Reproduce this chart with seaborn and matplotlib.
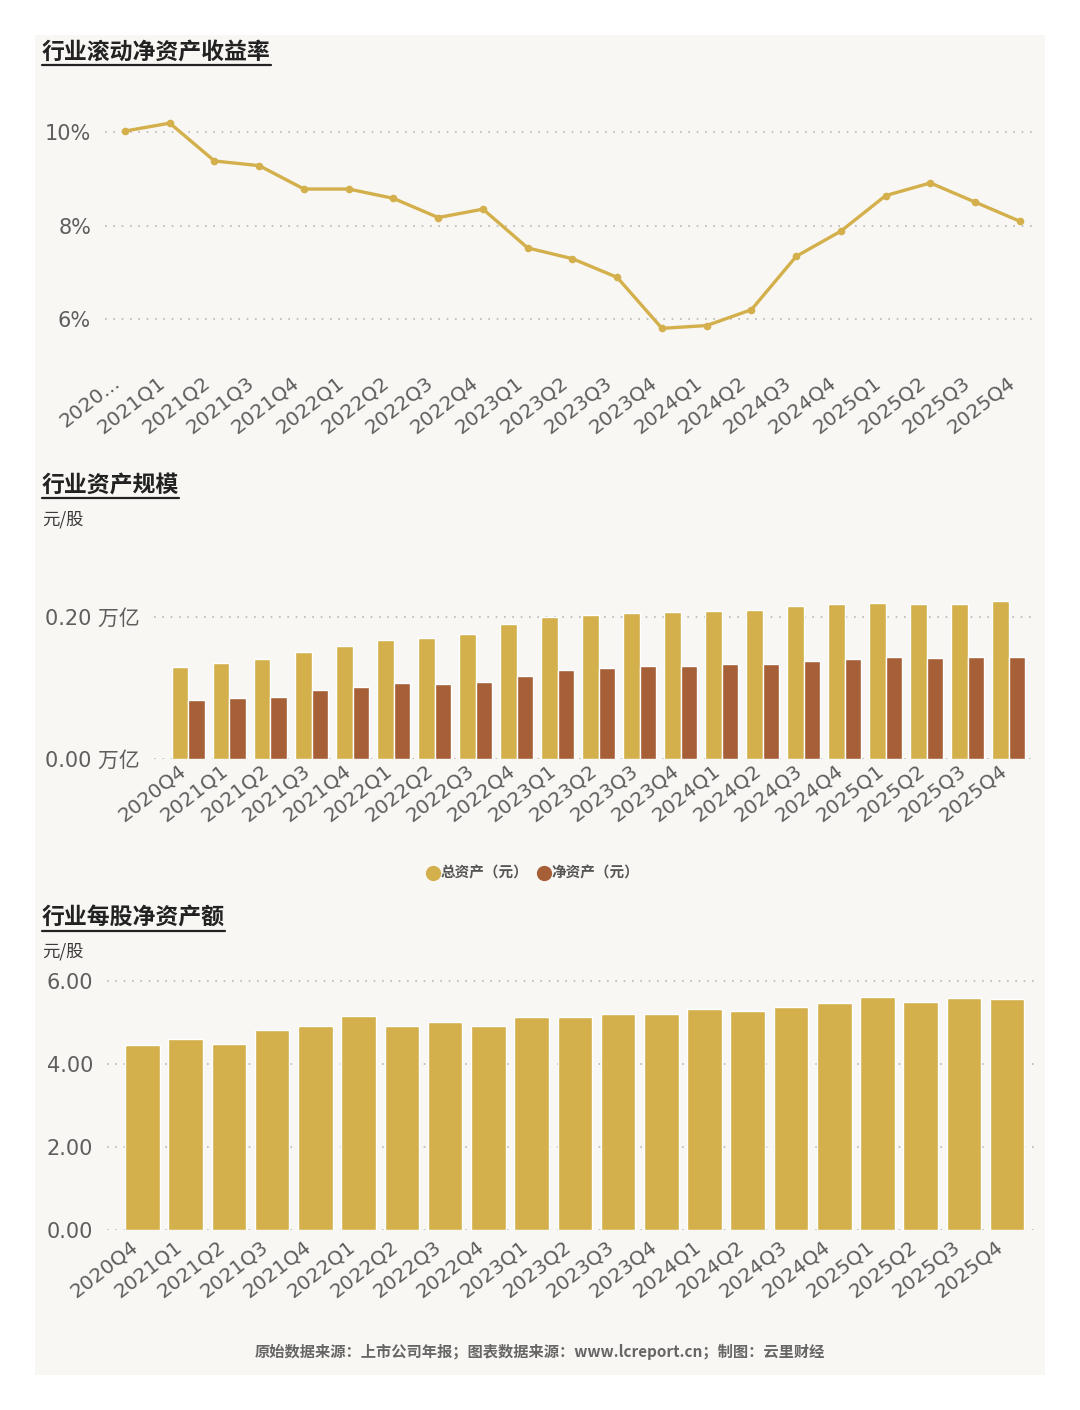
import matplotlib
matplotlib.use('Agg')
import matplotlib.pyplot as plt
import matplotlib.transforms as mtransforms
from matplotlib.patches import Rectangle
from matplotlib.lines import Line2D
from matplotlib.ticker import FuncFormatter
import seaborn as sns
import pandas as pd

quarters = ['2020Q4', '2021Q1', '2021Q2', '2021Q3', '2021Q4',
            '2022Q1', '2022Q2', '2022Q3', '2022Q4',
            '2023Q1', '2023Q2', '2023Q3', '2023Q4',
            '2024Q1', '2024Q2', '2024Q3', '2024Q4',
            '2025Q1', '2025Q2', '2025Q3', '2025Q4']
roe_labels = ['2020...'] + quarters[1:]

# 滚动ROE (%)
roe = [10.02, 10.19, 9.38, 9.28, 8.78, 8.78, 8.58, 8.17, 8.35, 7.52, 7.29,
       6.89, 5.80, 5.86, 6.20, 7.34, 7.88, 8.64, 8.91, 8.50, 8.09]
# 资产规模 (万亿)
total_assets = [0.129, 0.135, 0.141, 0.151, 0.159, 0.167, 0.171, 0.176, 0.190,
                0.200, 0.203, 0.206, 0.207, 0.208, 0.210, 0.215, 0.218, 0.220,
                0.219, 0.219, 0.222]
net_assets = [0.082, 0.085, 0.087, 0.097, 0.101, 0.107, 0.105, 0.108, 0.117,
              0.125, 0.128, 0.131, 0.131, 0.134, 0.134, 0.138, 0.141, 0.143,
              0.142, 0.144, 0.144]
series_names = ['总资产（元）', '净资产（元）']
# 每股净资产 (元/股)
bvps = [4.45, 4.59, 4.48, 4.81, 4.92, 5.14, 4.92, 5.01, 4.90, 5.12, 5.13,
        5.19, 5.20, 5.32, 5.27, 5.37, 5.46, 5.61, 5.49, 5.58, 5.57]

gold = '#d3b04b'
brown = '#a65f37'
panel_bg = '#f9f7f4'
tick_col = '#5e5e5e'

sns.set_theme(style='white')
plt.rcParams['font.family'] = ['Noto Sans CJK SC', 'DejaVu Sans']
plt.rcParams['axes.unicode_minus'] = False

W, H = 1080, 1410
fig = plt.figure(figsize=(W / 100, H / 100), dpi=100)
fig.patch.set_facecolor('white')
fig.patches.append(Rectangle((35 / W, 1 - 1375 / H), 1010 / W, 1340 / H,
                             transform=fig.transFigure, facecolor=panel_bg,
                             edgecolor='none', zorder=-10))


def px_axes(left, right, top, bottom):
    return fig.add_axes([left / W, 1 - bottom / H, (right - left) / W, (bottom - top) / H])


def style_axes(ax, xlabels, xpad, xshift):
    ax.set_facecolor('none')
    sns.despine(ax=ax, left=True, bottom=True)
    ax.grid(axis='y', color='#b8b8b8', linestyle=(0, (1, 4)), linewidth=1.2)
    ax.grid(axis='x', visible=False)
    ax.set_axisbelow(True)
    ax.set_xlabel('')
    ax.set_ylabel('')
    ax.set_xticks(range(len(xlabels)))
    ax.set_xticklabels(xlabels, rotation=38, ha='right', rotation_mode='anchor',
                       fontfamily=['DejaVu Sans', 'Noto Sans CJK SC'])
    ax.tick_params(axis='x', length=0, pad=xpad, labelsize=14.5, labelcolor=tick_col)
    ax.tick_params(axis='y', length=0, pad=10, labelsize=15, labelcolor=tick_col)
    shift = mtransforms.ScaledTranslation(xshift / 100, 0, fig.dpi_scale_trans)
    for lab in ax.get_xticklabels():
        lab.set_transform(lab.get_transform() + shift)
    for lab in ax.get_yticklabels():
        lab.set_fontfamily(['DejaVu Sans', 'Noto Sans CJK SC'])


# 图1 行业滚动净资产收益率
ax1 = px_axes(105, 1032, 85.25, 365.75)
sns.lineplot(x=list(range(len(quarters))), y=roe, ax=ax1, color=gold, linewidth=2.4,
             marker='o', markersize=5.5, markeredgewidth=0, sort=False)
ax1.set_xlim(-0.447, 20.27)
ax1.set_ylim(5.0, 11.0)
ax1.set_yticks([6, 8, 10])
ax1.yaxis.set_major_formatter(FuncFormatter(lambda v, p: f'{v:.0f}%'))
style_axes(ax1, roe_labels, 5, -13)

# 图2 行业资产规模
assets_df = pd.DataFrame({
    'quarter': quarters * 2,
    'value': total_assets + net_assets,
    'series': [series_names[0]] * len(quarters) + [series_names[1]] * len(quarters),
})
ax2 = px_axes(154, 1033, 546.25, 758.5)
sns.barplot(data=assets_df, x='quarter', y='value', hue='series', hue_order=series_names,
            palette=[gold, brown], saturation=1, width=0.8, ax=ax2, legend=False)
ax2.set_xlim(-0.84, 20.59)
ax2.set_ylim(0, 0.30)
ax2.set_yticks([0, 0.2])
ax2.yaxis.set_major_formatter(FuncFormatter(lambda v, p: f'{v:.2f} 万亿'))
style_axes(ax2, quarters, 2, -10)

# 图3 行业每股净资产额
ax3 = px_axes(107, 1034, 978.6, 1230)
sns.barplot(x=quarters, y=bvps, color=gold, saturation=1, width=0.8, ax=ax3)
ax3.set_xlim(-0.82, 20.62)
ax3.set_ylim(0, 6.05)
ax3.set_yticks([0, 2, 4, 6])
ax3.yaxis.set_major_formatter(FuncFormatter(lambda v, p: f'{v:.2f}'))
style_axes(ax3, quarters, 5, -12)

# 标题 + 下划线
titles = []
for txt, ypx in [('行业滚动净资产收益率', 53), ('行业资产规模', 486), ('行业每股净资产额', 918)]:
    titles.append(fig.text(42 / W, 1 - ypx / H, txt, fontsize=16.5, fontweight='bold',
                           color='#222222', ha='left', va='center'))
for ypx in [520, 952]:
    fig.text(42 / W, 1 - ypx / H, '元/股', fontsize=12.5, fontweight='medium',
             color='#3a3a3a', ha='left', va='center')

handles = [Line2D([], [], linestyle='none', marker='o', markersize=11,
                  markerfacecolor=c, markeredgewidth=0) for c in [gold, brown]]
fig.legend(handles, series_names, loc='center', bbox_to_anchor=(532 / W, 1 - 873 / H),
           ncol=2, frameon=False, handletextpad=-0.1, columnspacing=0.5, handlelength=1.2,
           prop={'size': 10.5, 'weight': 'bold'}, labelcolor='#555555')

fig.text(540 / W, 1 - 1352 / H,
         '原始数据来源：上市公司年报；图表数据来源：www.lcreport.cn；制图：云里财经',
         fontsize=11, fontweight='bold', color='#666666', ha='center', va='center')

fig.canvas.draw()
renderer = fig.canvas.get_renderer()
for t in titles:
    bb = t.get_window_extent(renderer).transformed(fig.transFigure.inverted())
    fig.add_artist(Line2D([bb.x0, bb.x1], [bb.y0 - 1 / H, bb.y0 - 1 / H],
                          transform=fig.transFigure, color='#222222', linewidth=1.6))

fig.savefig('out.png', dpi=100, facecolor=fig.get_facecolor())
